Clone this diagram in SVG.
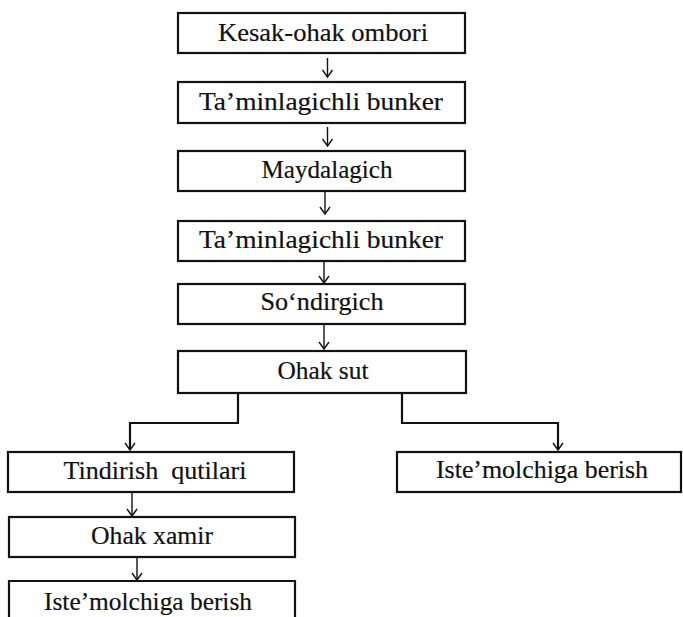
<svg xmlns="http://www.w3.org/2000/svg" width="683" height="617" viewBox="0 0 683 617">
  <style>
    .box { fill: #fff; stroke: #111; stroke-width: 2.2; }
    .lbl { font-family: "Liberation Serif", serif; font-size: 26px; fill: #111; stroke: #111; stroke-width: 0.2; text-anchor: middle; }
    .wire { fill: none; stroke: #111; stroke-width: 1.4; }
    .wire2 { fill: none; stroke: #111; stroke-width: 2.2; }
  </style>
  <defs>
    <!-- open V arrowhead, drawn along +x so orient="auto" points it down the line -->
    <marker id="arr" markerWidth="10" markerHeight="12" refX="8" refY="6" orient="auto" markerUnits="userSpaceOnUse" viewBox="0 0 10 12">
      <path d="M1,1 L8,6 L1,11" fill="none" stroke="#111" stroke-width="1.4"/>
    </marker>
  </defs>
  <rect width="683" height="617" fill="#fff"/>

  <!-- main line -->
  <g id="n1"><rect class="box" x="178" y="13" width="287" height="40"/><text class="lbl" x="323" y="41" textLength="210" lengthAdjust="spacingAndGlyphs">Kesak-ohak ombori</text></g>
  <g id="n2"><rect class="box" x="178" y="82" width="287" height="41"/><text class="lbl" x="321" y="110" textLength="244" lengthAdjust="spacingAndGlyphs">Ta’minlagichli bunker</text></g>
  <g id="n3"><rect class="box" x="178" y="151" width="287" height="40"/><text class="lbl" x="327" y="178" textLength="131" lengthAdjust="spacingAndGlyphs">Maydalagich</text></g>
  <g id="n4"><rect class="box" x="178" y="221" width="287" height="40"/><text class="lbl" x="321" y="248" textLength="244" lengthAdjust="spacingAndGlyphs">Ta’minlagichli bunker</text></g>
  <g id="n5"><rect class="box" x="178" y="284" width="287" height="40"/><text class="lbl" x="322" y="310" textLength="123" lengthAdjust="spacingAndGlyphs">So‘ndirgich</text></g>
  <g id="n6"><rect class="box" x="178" y="351" width="288" height="42"/><text class="lbl" x="323" y="379" textLength="91" lengthAdjust="spacingAndGlyphs">Ohak sut</text></g>

  <!-- left branch -->
  <g id="n7"><rect class="box" x="8" y="452" width="286" height="40"/><text class="lbl" x="155" y="479" textLength="183" lengthAdjust="spacingAndGlyphs" xml:space="preserve">Tindirish  qutilari</text></g>
  <g id="n8"><rect class="box" x="9" y="517" width="286" height="40"/><text class="lbl" x="152" y="544" textLength="122" lengthAdjust="spacingAndGlyphs">Ohak xamir</text></g>
  <g id="n9"><path class="box" d="M9,618 L9,581 L295,581 L295,618"/><text class="lbl" x="148" y="610" textLength="208" lengthAdjust="spacingAndGlyphs">Iste’molchiga berish</text></g>

  <!-- right branch -->
  <g id="n10"><rect class="box" x="397" y="452" width="284" height="40"/><text class="lbl" x="542" y="478" textLength="212" lengthAdjust="spacingAndGlyphs">Iste’molchiga berish</text></g>

  <g id="connectors">
    <line class="wire" x1="327.5" y1="58" x2="327.5" y2="77" marker-end="url(#arr)"/>
    <line class="wire" x1="327.5" y1="127" x2="327.5" y2="146" marker-end="url(#arr)"/>
    <line class="wire" x1="325" y1="192" x2="325" y2="214" marker-end="url(#arr)"/>
    <line class="wire" x1="324" y1="262" x2="324" y2="283" marker-end="url(#arr)"/>
    <line class="wire" x1="324" y1="325" x2="324" y2="349" marker-end="url(#arr)"/>
    <path class="wire2" d="M238,393 L238,423 L130,423 L130,450" marker-end="url(#arr)"/>
    <path class="wire2" d="M402,393 L402,423 L558,423 L558,450" marker-end="url(#arr)"/>
    <line class="wire" x1="132" y1="493" x2="132" y2="516" marker-end="url(#arr)"/>
    <line class="wire" x1="137" y1="558" x2="137" y2="580" marker-end="url(#arr)"/>
  </g>
</svg>
